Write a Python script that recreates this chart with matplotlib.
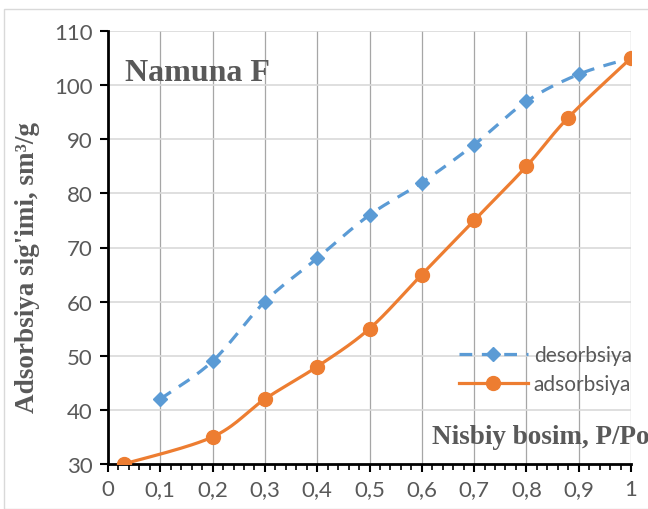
import numpy as np
import matplotlib
matplotlib.use("Agg")
import matplotlib.pyplot as plt
from matplotlib.patches import Rectangle
from matplotlib.lines import Line2D

# Isotherm data
ads_x = [0.03, 0.2, 0.3, 0.4, 0.5, 0.6, 0.7, 0.8, 0.88, 1.0]
ads_y = [30, 35, 42, 48, 55, 65, 75, 85, 94, 105]
des_x = [0.1, 0.2, 0.3, 0.4, 0.5, 0.6, 0.7, 0.8, 0.9, 1.0]
des_y = [42, 49, 60, 68, 76, 82, 89, 97, 102, 105]

x_ticks = [0, 0.1, 0.2, 0.3, 0.4, 0.5, 0.6, 0.7, 0.8, 0.9, 1.0]
x_labels = ["0", "0,1", "0,2", "0,3", "0,4", "0,5", "0,6", "0,7", "0,8", "0,9", "1"]
y_ticks = [30, 40, 50, 60, 70, 80, 90, 100, 110]

BLUE = "#5B9BD5"
ORANGE = "#ED7D31"
GRAY = "#595959"


def smooth(xs, ys, n=30, tension=0.5):
    """Catmull-Rom style smoothing through the points (spreadsheet 'smoothed line')."""
    xs = np.asarray(xs, float)
    ys = np.asarray(ys, float)
    P = np.column_stack([xs, ys])
    P = np.vstack([P[0], P, P[-1]])
    out = []
    for i in range(1, len(P) - 2):
        p0, p1, p2, p3 = P[i - 1], P[i], P[i + 1], P[i + 2]
        c1 = p1 + (p2 - p0) * tension / 3
        c2 = p2 - (p3 - p1) * tension / 3
        t = np.linspace(0, 1, n)[:, None]
        seg = ((1 - t) ** 3) * p1 + 3 * ((1 - t) ** 2) * t * c1 + 3 * (1 - t) * t ** 2 * c2 + t ** 3 * p2
        out.append(seg if i == 1 else seg[1:])
    out = np.vstack(out)
    return out[:, 0], out[:, 1]


fig = plt.figure(figsize=(6.48, 5.10), dpi=100)
fig.patches.append(Rectangle((4 / 648, 0), 1.2, (510 - 10) / 510, transform=fig.transFigure,
                             facecolor="none", edgecolor="#D9D9D9", linewidth=1.0))

ax = fig.add_axes([108 / 648, 45 / 510, 523 / 648, 433 / 510])
ax.set_xlim(0, 1)
ax.set_ylim(30, 110)

for x in x_ticks[1:]:
    ax.axvline(x, color="#A6A6A6", linewidth=0.9, zorder=1)
for y in y_ticks[1:]:
    ax.axhline(y, color="#D9D9D9", linewidth=1.2, zorder=1)

sx, sy = smooth(des_x, des_y)
ax.plot(sx, sy, color=BLUE, linewidth=2.3, linestyle=(0, (4, 3)), zorder=3)
ax.plot(des_x, des_y, linestyle="none", marker="D", markersize=7.5, color=BLUE, zorder=4)

sx, sy = smooth(ads_x, ads_y)
ax.plot(sx, sy, color=ORANGE, linewidth=2.3, zorder=3)
ax.plot(ads_x, ads_y, linestyle="none", marker="o", markersize=10, color=ORANGE, zorder=4)

for s in ["top", "right"]:
    ax.spines[s].set_visible(False)
for s in ["left", "bottom"]:
    ax.spines[s].set_linewidth(2.0)
    ax.spines[s].set_color("black")

ax.set_xticks(x_ticks)
ax.set_xticklabels(x_labels)
ax.set_xticks(np.arange(0, 1.0001, 0.02), minor=True)
ax.set_yticks(y_ticks)
ax.tick_params(axis="both", which="major", direction="out", length=6, width=1.5,
               colors="black", labelcolor=GRAY, labelsize=16)
ax.tick_params(axis="x", which="minor", direction="out", length=4, width=1.2, colors="black")
for lab in ax.get_xticklabels() + ax.get_yticklabels():
    lab.set_family("Lato")
ax.tick_params(axis="x", pad=5)
ax.tick_params(axis="y", pad=5)

ax.set_ylabel("Adsorbsiya sig'imi, sm³/g", family="Liberation Serif", fontweight="bold",
              fontsize=19.5, color=GRAY)
ax.yaxis.set_label_coords(-0.13, 0.457)
ax.text(0.033, 0.905, "Namuna F", transform=ax.transAxes, family="Liberation Serif",
        fontweight="bold", fontsize=23, color=GRAY, va="center", ha="left")
ax.text(1.035, 0.063, "Nisbiy bosim, P/Po", transform=ax.transAxes, family="Liberation Serif",
        fontweight="bold", fontsize=19.5, color=GRAY, va="center", ha="right", clip_on=False)

handles = [
    Line2D([], [], color=BLUE, linewidth=2.3, linestyle=(0, (4, 3)), marker="D", markersize=7.5),
    Line2D([], [], color=ORANGE, linewidth=2.3, marker="o", markersize=10),
]
leg = ax.legend(handles, ["desorbsiya", "adsorbsiya"], loc="center left",
                bbox_to_anchor=(0.635, 0.218), frameon=False, handlelength=3.3,
                handletextpad=0.3, labelspacing=0.45, prop={"family": "Lato", "size": 15})
for t in leg.get_texts():
    t.set_color(GRAY)

fig.savefig("out.png", dpi=100)
